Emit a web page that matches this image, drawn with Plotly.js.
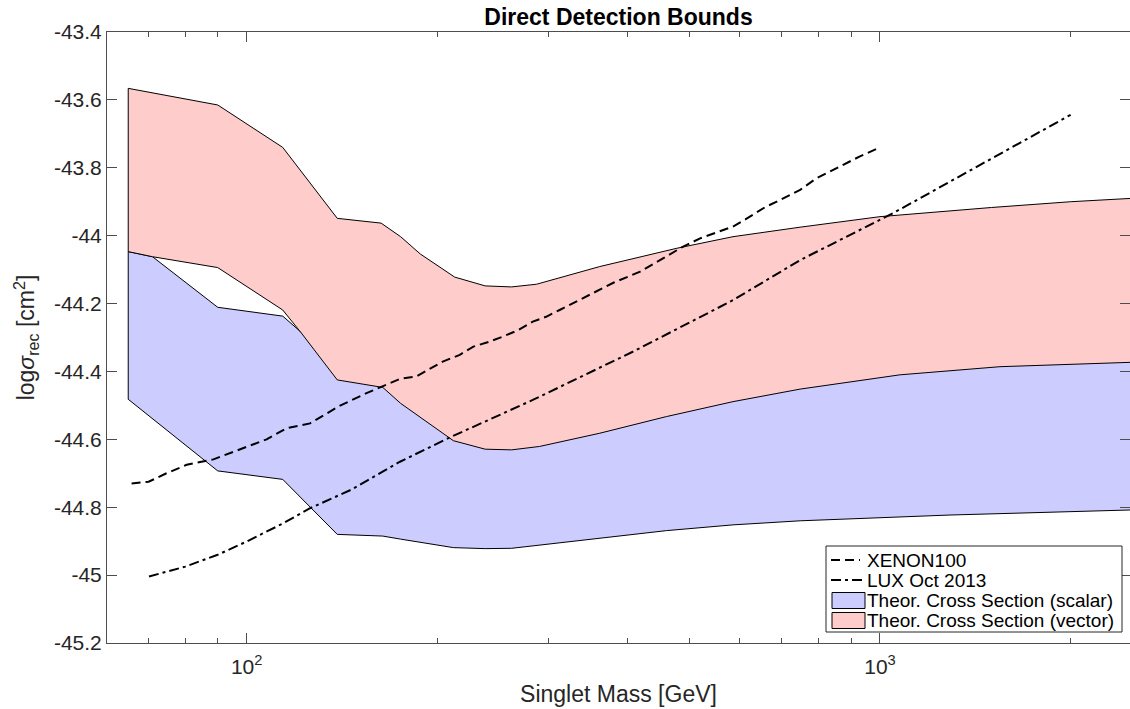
<!DOCTYPE html>
<html>
<head>
<meta charset="utf-8">
<script src="https://cdn.plot.ly/plotly-3.0.1.min.js"></script>
<style>html,body{margin:0;padding:0;background:#fff;}</style>
</head>
<body>
<div id="chart" style="width:1130px;height:709px;"></div>
<script>
// ---- Data ----
// Vector (pink) band
const vectorUpperMass = [65, 90, 114, 139, 163, 175, 188, 213, 238, 262, 287, 361, 478, 586, 748, 1000, 1500, 2000, 2500];
const vectorUpper     = [-43.566, -43.615, -43.740, -43.949, -43.963, -44.003, -44.054, -44.122, -44.148, -44.151, -44.143, -44.091, -44.037, -44.003, -43.975, -43.944, -43.917, -43.900, -43.890];
const vectorLowerMass = [65, 71, 90, 114, 122, 139, 164, 175, 212, 238, 262, 290, 361, 460, 586, 748, 1075, 1547, 2500];
const vectorLower     = [-44.047, -44.062, -44.094, -44.219, -44.287, -44.425, -44.447, -44.494, -44.604, -44.629, -44.631, -44.621, -44.582, -44.533, -44.489, -44.452, -44.410, -44.386, -44.373];

// Scalar (blue) band
const scalarUpperMass = [65, 71, 90, 114, 130, 150, 200, 348, 748, 2500];
const scalarUpper     = [-44.047, -44.062, -44.211, -44.237, -44.330, -44.410, -44.420, -44.417, -44.361, -44.327];
const scalarLowerMass = [65, 90, 114, 139, 164, 175, 212, 238, 262, 361, 460, 586, 748, 1290, 2500];
const scalarLower     = [-44.482, -44.693, -44.718, -44.880, -44.885, -44.894, -44.919, -44.922, -44.921, -44.891, -44.869, -44.852, -44.840, -44.823, -44.808];

// XENON100 limit
const xenonMass = [65.8, 70, 74.7, 80.4, 88.6, 97.6, 107.5, 115.7, 125.9, 140, 154.6, 174.6, 185.2, 204, 217, 228, 242, 254, 268.6, 283, 297, 312, 331.6, 342.5, 380, 418, 469, 489, 520, 586, 613, 660, 687, 748, 794, 834, 886, 928, 1000];
const xenonSigma = [-44.730, -44.725, -44.700, -44.675, -44.659, -44.629, -44.600, -44.567, -44.553, -44.502, -44.464, -44.422, -44.415, -44.371, -44.351, -44.327, -44.312, -44.297, -44.278, -44.253, -44.239, -44.219, -44.194, -44.180, -44.138, -44.106, -44.052, -44.032, -44.008, -43.973, -43.952, -43.915, -43.900, -43.865, -43.831, -43.811, -43.785, -43.767, -43.740];

// LUX Oct 2013 limit
const luxMass  = [70.1, 80, 90, 100, 114.3, 125.9, 146, 174.6, 209.5, 283, 407, 586, 748, 1048, 2000];
const luxSigma = [-45.004, -44.975, -44.940, -44.901, -44.847, -44.803, -44.749, -44.666, -44.594, -44.484, -44.342, -44.190, -44.072, -43.934, -43.644];

// Tick labels
const yTickVals = [-45.2, -45.0, -44.8, -44.6, -44.4, -44.2, -44.0, -43.8, -43.6, -43.4];
const yTickText = ['-45.2', '-45', '-44.8', '-44.6', '-44.4', '-44.2', '-44', '-43.8', '-43.6', '-43.4'];
const xTickVals = [100, 1000];
const xTickText = ['10<sup>2</sup>', '10<sup>3</sup>'];
const xMinorVals = [70, 80, 90, 200, 300, 400, 500, 600, 700, 800, 900, 2000];

// Legend labels
const legendNames = ['XENON100', 'LUX Oct 2013', 'Theor. Cross Section (scalar)', 'Theor. Cross Section (vector)'];

// ---- Build closed band polygons from the arrays ----
function band(upMass, up, lowMass, low) {
  const x = upMass.concat(lowMass.slice().reverse(), [upMass[0]]);
  const y = up.concat(low.slice().reverse(), [up[0]]);
  return {x, y};
}
const scalarPoly = band(scalarUpperMass, scalarUpper, scalarLowerMass, scalarLower);
const vectorPoly = band(vectorUpperMass, vectorUpper, vectorLowerMass, vectorLower);

const FONT = 'Liberation Sans, Arial, Helvetica, sans-serif';
const AXC = '#4d4d4d';
const TXT = '#262626';
const BLUE = 'rgb(204,204,255)';
const PINK = 'rgb(255,204,204)';
const XEN_DASH = '9px,5px';
const LUX_DASH = '10px,4px,3px,4px';

const traces = [
  {
    x: scalarPoly.x, y: scalarPoly.y, type: 'scatter', mode: 'lines',
    fill: 'toself', fillcolor: BLUE,
    line: {color: '#000000', width: 1},
    name: legendNames[2], hoverinfo: 'skip'
  },
  {
    x: vectorPoly.x, y: vectorPoly.y, type: 'scatter', mode: 'lines',
    fill: 'toself', fillcolor: PINK,
    line: {color: '#000000', width: 1},
    name: legendNames[3], hoverinfo: 'skip'
  },
  {
    x: xenonMass, y: xenonSigma, type: 'scatter', mode: 'lines',
    line: {color: '#000000', width: 2, dash: XEN_DASH},
    name: legendNames[0]
  },
  {
    x: luxMass, y: luxSigma, type: 'scatter', mode: 'lines',
    line: {color: '#000000', width: 2, dash: LUX_DASH},
    name: legendNames[1]
  }
];

// ---- Legend box (drawn in paper coordinates, MATLAB style) ----
const PL = 107, PR = 1130, PT = 32, PB = 643;
const px = v => (v - PL) / (PR - PL);
const py = v => (PB - v) / (PB - PT);
const rowY = [560, 580, 600.5, 620.5];
const shapes = [
  {type: 'rect', xref: 'paper', yref: 'paper', x0: px(826), x1: px(1122), y0: py(632), y1: py(546),
   fillcolor: '#ffffff', line: {color: TXT, width: 1}, layer: 'above'},
  {type: 'line', xref: 'paper', yref: 'paper', x0: px(831), x1: px(860), y0: py(rowY[0]), y1: py(rowY[0]),
   line: {color: '#000000', width: 2, dash: XEN_DASH}, layer: 'above'},
  {type: 'line', xref: 'paper', yref: 'paper', x0: px(831), x1: px(865), y0: py(rowY[1]), y1: py(rowY[1]),
   line: {color: '#000000', width: 2, dash: LUX_DASH}, layer: 'above'},
  {type: 'rect', xref: 'paper', yref: 'paper', x0: px(832), x1: px(865), y0: py(rowY[2] + 8), y1: py(rowY[2] - 8),
   fillcolor: BLUE, line: {color: '#000000', width: 1}, layer: 'above'},
  {type: 'rect', xref: 'paper', yref: 'paper', x0: px(832), x1: px(865), y0: py(rowY[3] + 8), y1: py(rowY[3] - 8),
   fillcolor: PINK, line: {color: '#000000', width: 1}, layer: 'above'}
];
const annotations = legendNames.map((t, i) => ({
  text: t, xref: 'paper', yref: 'paper', x: px(866), y: py(rowY[i]),
  xanchor: 'left', yanchor: 'middle', showarrow: false, borderpad: 0,
  font: {family: FONT, size: 19, color: '#000000'}
}));

const layout = {
  width: 1130, height: 709,
  margin: {l: PL, r: 0, t: PT, b: 709 - PB},
  paper_bgcolor: '#ffffff', plot_bgcolor: '#ffffff',
  font: {family: FONT, color: TXT},
  showlegend: false,
  title: {
    text: 'Direct Detection Bounds',
    font: {family: FONT, size: 23, color: '#000000', weight: 'bold'},
    x: 0.5, xref: 'paper', y: 1, yref: 'paper', yanchor: 'bottom',
    pad: {b: 7}
  },
  xaxis: {
    type: 'log',
    range: [1.7794, 3.3948],
    tickmode: 'array', tickvals: xTickVals, ticktext: xTickText,
    ticks: 'inside', ticklen: 10, tickwidth: 1, tickcolor: AXC,
    minor: {tickmode: 'array', tickvals: xMinorVals, ticks: 'inside', ticklen: 5, tickwidth: 1, tickcolor: AXC, showgrid: false},
    showline: true, linecolor: AXC, linewidth: 1, mirror: 'allticks',
    showgrid: false, zeroline: false,
    ticklabelstandoff: 5,
    tickfont: {family: FONT, size: 21, color: TXT},
    title: {text: 'Singlet Mass [GeV]', font: {family: FONT, size: 23, color: TXT}, standoff: 8}
  },
  yaxis: {
    range: [-45.2, -43.4],
    tickmode: 'array', tickvals: yTickVals, ticktext: yTickText,
    ticks: 'inside', ticklen: 10, tickwidth: 1, tickcolor: AXC,
    showline: true, linecolor: AXC, linewidth: 1, mirror: 'allticks',
    showgrid: false, zeroline: false,
    tickfont: {family: FONT, size: 21, color: TXT},
    title: {text: 'log<i>σ</i><sub>rec</sub> [cm<sup>2</sup>]', font: {family: FONT, size: 23, color: TXT}, standoff: 12}
  },
  shapes: shapes,
  annotations: annotations
};

Plotly.newPlot('chart', traces, layout, {displayModeBar: false, staticPlot: true});
</script>
</body>
</html>
